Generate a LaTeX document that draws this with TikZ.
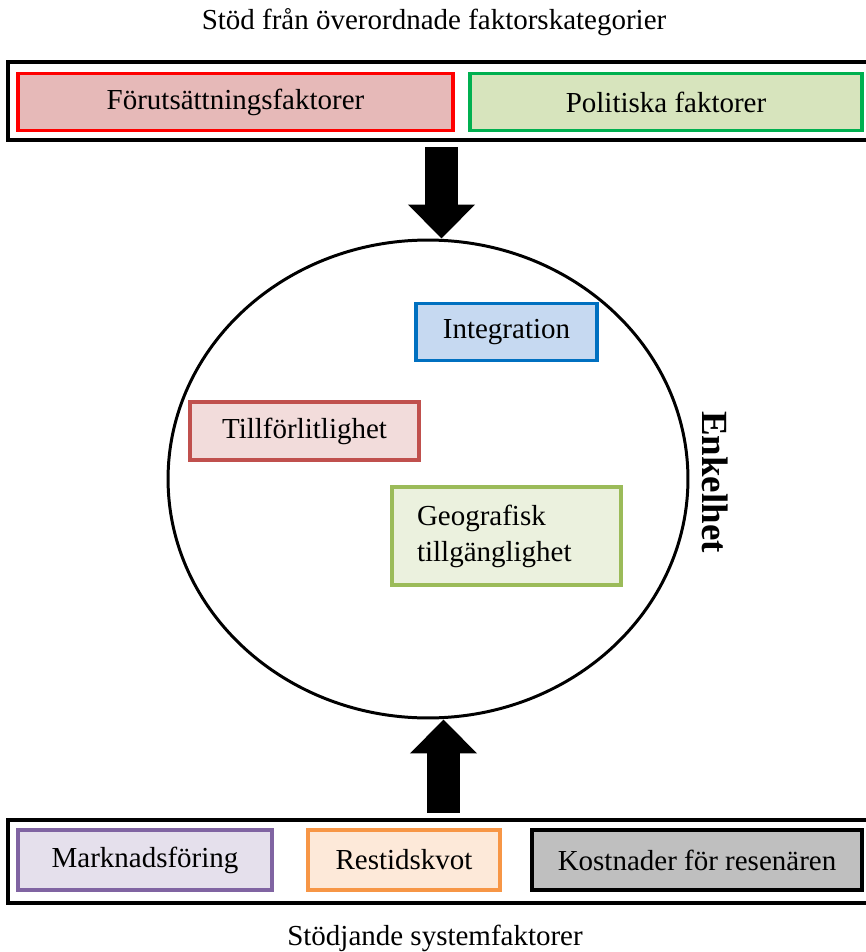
\documentclass[tikz,border=0pt]{standalone}
\usepackage{fontspec}
\setmainfont{Liberation Serif}
\usepackage{tikz}
\usetikzlibrary{shapes.geometric}
\usetikzlibrary{arrows.meta}

\definecolor{redline}{HTML}{FF0000}
\definecolor{redfill}{HTML}{E6B9B8}
\definecolor{greenline}{HTML}{00B050}
\definecolor{greenfill}{HTML}{D7E4BD}
\definecolor{blueline}{HTML}{0070C0}
\definecolor{bluefill}{HTML}{C6D9F1}
\definecolor{roseline}{HTML}{C0504D}
\definecolor{rosefill}{HTML}{F2DCDB}
\definecolor{oliveline}{HTML}{9BBB59}
\definecolor{olivefill}{HTML}{EBF1DE}
\definecolor{purpleline}{HTML}{8064A2}
\definecolor{purplefill}{HTML}{E5E0EC}
\definecolor{orangeline}{HTML}{F79646}
\definecolor{orangefill}{HTML}{FDE9D9}
\definecolor{grayfill}{HTML}{BFBFBF}

\begin{document}
\begin{tikzpicture}[x=0.02cm,y=-0.02cm]
		\tikzstyle{label} = [font=\fontsize{16.5}{20.5}\selectfont]
		\tikzstyle{frame} = [draw, rectangle, line width=2.5pt, minimum width=17.5cm]
		\tikzstyle{factor} = [draw, rectangle, line width=2.1pt, font=\fontsize{16.5}{20.5}\selectfont]
		\tikzstyle{bigarrow} = [line width=0.66cm, -{Triangle[length=0.68cm, width=1.3cm]}]
		\useasboundingbox (0,0) rectangle (865,952);

		\node [label] (toptitle) at (434,22) {Stöd från överordnade faktorskategorier};
		\node [frame, minimum height=1.56cm] (upper) at (445.5,101) {};
		\node [factor, draw=redline, fill=redfill, minimum width=8.7cm, minimum height=1.14cm] (forut) at (235.5,102) {Förutsättningsfaktorer};
		\node [factor, draw=greenline, fill=greenfill, minimum width=7.84cm, minimum height=1.14cm] (polit) at (666,102) {Politiska faktorer};

		\node [draw, ellipse, line width=1.7pt, inner sep=0pt, minimum width=10.4cm, minimum height=9.56cm] (core) at (428,479) {};
		\node [factor, draw=blueline, fill=bluefill, minimum width=3.62cm, minimum height=1.14cm] (integ) at (506.5,332) {Integration};
		\node [factor, draw=roseline, fill=rosefill, minimum width=4.58cm, minimum height=1.16cm] (trust) at (304.5,431) {Tillförlitlighet};
		\node [factor, draw=oliveline, fill=olivefill, text width=3.58cm, inner xsep=0.5cm, align=left, minimum height=1.96cm] (geo) at (506.5,536) {Geografisk\\tillgänglighet};
		\node [font=\fontsize{21}{24}\selectfont\bfseries, rotate=-90] (simple) at (715,482) {Enkelhet};

		\node [frame, minimum height=1.66cm] (lower) at (445.5,861.5) {};
		\node [factor, draw=purpleline, fill=purplefill, minimum width=5.08cm, minimum height=1.2cm] (market) at (145,860) {Marknadsföring};
		\node [factor, draw=orangeline, fill=orangefill, minimum width=3.84cm, minimum height=1.2cm] (ratio) at (404,860) {Restidskvot};
		\node [factor, draw=black, fill=grayfill, minimum width=6.6cm, minimum height=1.2cm] (cost) at (697,860) {Kostnader för resenären};
		\node [label] (bottitle) at (435,938) {Stödjande systemfaktorer};

		\draw[bigarrow] ([xshift=-0.08cm, yshift=-0.1cm]upper.south) -- ([xshift=-0.08cm]upper.south |- core.north);
		\draw[bigarrow] ([xshift=-0.04cm, yshift=0.1cm]lower.north) -- ([xshift=-0.04cm]lower.north |- core.south);
	\end{tikzpicture}
\end{document}
